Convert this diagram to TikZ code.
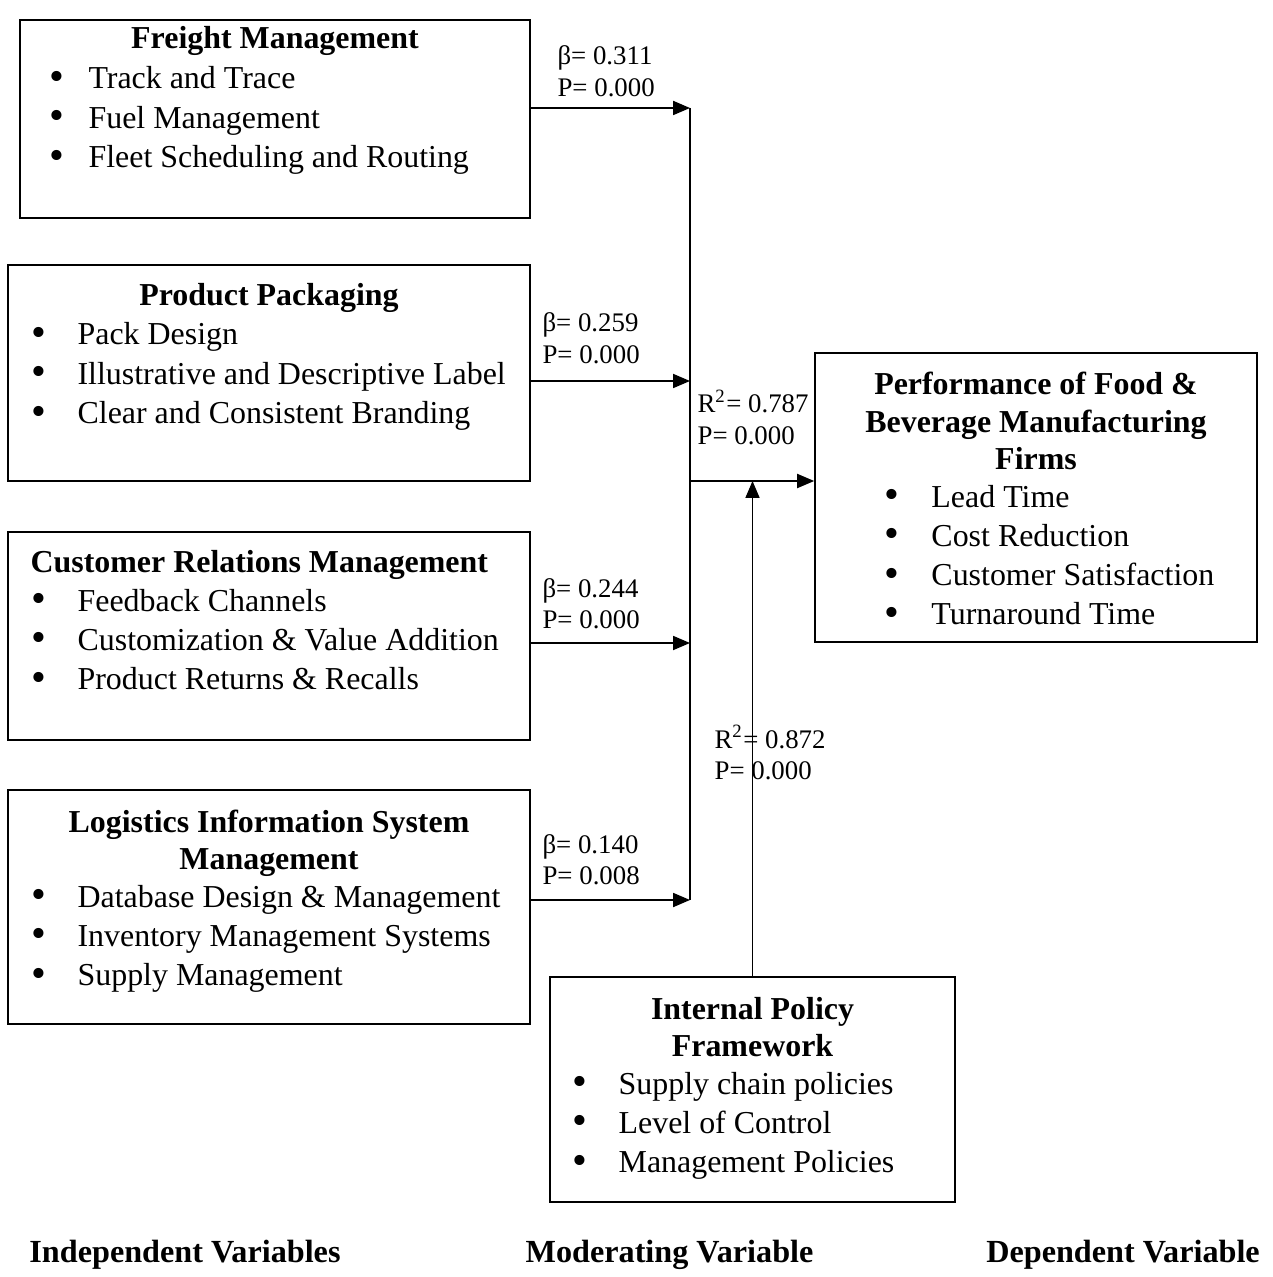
\documentclass[tikz,border=0pt]{standalone}
\usepackage{fontspec}
\setmainfont{Liberation Serif}
\usetikzlibrary{arrows.meta, positioning, fit}

% bullet list and stacked text helpers
\newcommand{\bul}{\raisebox{-0.6pt}{\fontsize{15}{15}\selectfont\textbullet}}
\newcommand{\blist}[2]{\begin{tabular}[t]{@{}p{#1}@{}l@{}}#2\end{tabular}}
\newcommand{\ttl}[1]{\begin{tabular}[t]{@{}c@{}}#1\end{tabular}}
\newcommand{\stack}[2]{\begin{tabular}[t]{@{}l@{}}#1\\#2\end{tabular}}

\begin{document}
\begin{tikzpicture}[x=0.354pt, y=-0.354pt,
    varbox/.style={draw, line width=0.6pt, inner sep=0pt},
    title/.style={anchor=base, font=\fontsize{11.3}{13.2}\selectfont\bfseries, inner sep=0pt},
    items/.style={anchor=base west, font=\fontsize{11.3}{13.9}\selectfont, inner sep=0pt},
    stat/.style={anchor=base west, font=\fontsize{9.5}{11}\selectfont, inner sep=0pt},
    link/.style={line width=0.5pt, -{Triangle[length=6pt,width=5pt]}},
    heading/.style={anchor=base, font=\fontsize{11.4}{14}\selectfont\bfseries, inner sep=0pt}]

    \useasboundingbox (0,0) rectangle (1272,1277);

    % Independent variables - left column
    \node[varbox, fit={(20,20) (530,218)}] (freight) {};
    \node[title] (freightT) at (275,49) {\ttl{Freight Management}};
    \node[items] (freightL) at (49,89) {\blist{13.8pt}{%
        \bul & Track and Trace\\
        \bul & Fuel Management\\
        \bul & Fleet Scheduling and Routing}};

    \node[varbox, fit={(8,265) (530,481)}] (pack) {};
    \node[title] (packT) at (269,306) {\ttl{Product Packaging}};
    \node[items] (packL) at (31,345) {\blist{16.3pt}{%
        \bul & Pack Design\\
        \bul & Illustrative and Descriptive Label\\
        \bul & Clear and Consistent Branding}};

    \node[varbox, fit={(8,532) (530,740)}] (crm) {};
    \node[title, anchor=base west] (crmT) at (30,572) {Customer Relations Management};
    \node[items] (crmL) at (31,611) {\blist{16.3pt}{%
        \bul & Feedback Channels\\
        \bul & Customization \& Value Addition\\
        \bul & Product Returns \& Recalls}};

    \node[varbox, fit={(8,790) (530,1024)}] (lism) {};
    \node[title] (lismT) at (269,832) {\ttl{Logistics Information System\\Management}};
    \node[items] (lismL) at (31,907) {\blist{16.3pt}{%
        \bul & Database Design \& Management\\
        \bul & Inventory Management Systems\\
        \bul & Supply Management}};

    % Dependent variable - right
    \node[varbox, fit={(815,353) (1257,642)}] (perf) {};
    \node[title] (perfT) at (1036,395) {\ttl{Performance of Food \&\\Beverage Manufacturing\\Firms}};
    \node[items] (perfL) at (884,507) {\blist{16.6pt}{%
        \bul & Lead Time\\
        \bul & Cost Reduction\\
        \bul & Customer Satisfaction\\
        \bul & Turnaround Time}};

    % Moderating variable - bottom
    \node[varbox, fit={(550,977) (955,1202)}] (policy) {};
    \node[title] (policyT) at (752.5,1019) {\ttl{Internal Policy\\Framework}};
    \node[items] (policyL) at (572,1094) {\blist{16.3pt}{%
        \bul & Supply chain policies\\
        \bul & Level of Control\\
        \bul & Management Policies}};

    % Junction points on the collector line
    \coordinate (j1) at (690,108);
    \coordinate (j2) at (690,381);
    \coordinate (j3) at (690,643);
    \coordinate (j4) at (690,900);
    \coordinate (hub) at (690,481);

    % Connectors
    \draw[link] (freight.east |- j1) -- (j1);
    \draw[link] (pack.east |- j2) -- (j2);
    \draw[link] (crm.east |- j3) -- (j3);
    \draw[link] (lism.east |- j4) -- (j4);
    \draw[line width=0.5pt] (j1) -- (j4);
    \draw[link] (hub) -- (perf.west |- hub);
    \draw[link, line width=0.4pt] (policy.north) -- (policy.north |- hub);

    % Path coefficients
    \node[stat] (b1) at (557,65) {\stack{β= 0.311}{P= 0.000}};
    \node[stat] (b2) at (542,332) {\stack{β= 0.259}{P= 0.000}};
    \node[stat] (b3) at (542,597) {\stack{β= 0.244}{P= 0.000}};
    \node[stat] (b4) at (542,853) {\stack{β= 0.140}{P= 0.008}};
    \node[stat] (r1) at (697,413) {\stack{R\textsuperscript{2}= 0.787}{P= 0.000}};
    \node[stat] (r2) at (714,748) {\stack{R\textsuperscript{2}= 0.872}{P= 0.000}};

    % Column headings
    \node[heading] (hIV) at (185,1262) {Independent Variables};
    \node[heading] (hMV) at (669.5,1262) {Moderating Variable};
    \node[heading] (hDV) at (1123,1262) {Dependent Variable};
\end{tikzpicture}
\end{document}
